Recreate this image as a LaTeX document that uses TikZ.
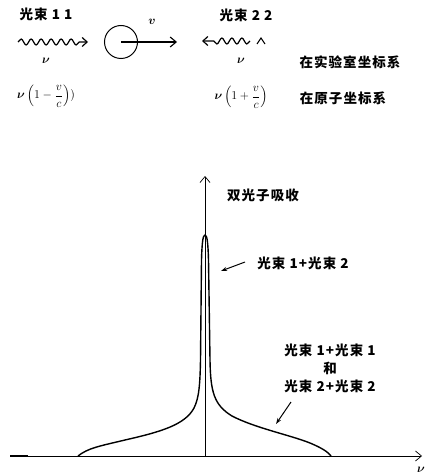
\documentclass[tikz,border=0pt]{standalone}
\usepackage{amsmath}
\usepackage{bm}
\usepackage{fontspec}
\newfontfamily\cjk[LetterSpace=8]{Noto Sans CJK SC}
\usetikzlibrary{decorations.pathmorphing,arrows.meta}
\begin{document}
\begin{tikzpicture}[x=1pt,y=-1pt,
  every node/.style={inner sep=0pt, font=\fontsize{13}{15}\selectfont},
  lbl/.style={font=\cjk\bfseries\fontsize{13.5}{18}\selectfont, align=center},
  wave/.style={line width=1.2pt, decorate, decoration={snake, amplitude=3pt, segment length=10pt, post length=8pt}, -{Straight Barb[length=5pt,width=9pt]}},
  plainarrow/.style={line width=1.1pt, -{Straight Barb[length=6pt,width=10pt]}},
  ax/.style={line width=0.7pt, -{Straight Barb[length=6pt,width=10pt]}},
  ptr/.style={line width=1pt, -{Stealth[length=6pt,width=4pt]}},
  peak/.style={line width=1.4pt}]
\useasboundingbox (0,0) rectangle (427,476);

% top part
\node[lbl] (b1) at (46,14) {光束 1 1};
\coordinate (w1s) at (18,42);
\coordinate (w1e) at (88,42);
\draw[wave] (w1s) -- (w1e);
\node (nu1) at (46,61) {$\bm{\nu}$};

\node[circle, draw, line width=1pt, minimum size=33pt] (atom) at (121,42) {};
\coordinate (va) at (177,42);
\draw[plainarrow] (atom.center) -- (va);
\node (v) at (152,22) {$\bm{v}$};

\node[lbl] (b2) at (246,15) {光束 2 2};
\coordinate (w2s) at (250,41);
\coordinate (w2e) at (202,41);
\draw[wave] (w2s) -- (w2e);
\coordinate (c1) at (257,44);
\coordinate (c2) at (261,38);
\coordinate (c3) at (265,44);
\draw[line width=1.1pt] (c1) -- (c2) -- (c3);
\node (nu2) at (241,61) {$\bm{\nu}$};
\node[lbl] (lab) at (350,62) {在实验室坐标系};

\node (f1) at (46,96) {$\bm{\nu}\left(1-\dfrac{v}{c}\right))$};
\node (f2) at (241,97) {$\bm{\nu}\left(1+\dfrac{v}{c}\right)$};
\node[lbl] (atomf) at (343,98) {在原子坐标系};

% graph
\coordinate (o) at (205,456);
\coordinate (xs) at (10,456);
\coordinate (xe) at (422,456);
\coordinate (ye) at (205,176);
\draw[line width=2pt] (xs) -- (28,456);
\draw[ax] (xs) -- (xe);
\draw[ax] (o) -- (ye);
\node (nux) at (421,470) {$\bm{\nu}$};
\node[lbl] (tpa) at (263,195) {双光子吸收};

\draw[peak] (78,456) .. controls (88,448) and (100,446) .. (125,440)
  .. controls (160,432) and (185,425) .. (194,408)
  .. controls (199,398) and (200,385) .. (200.5,360)
  -- (201.5,260) .. controls (202,242) and (203,235) .. (205,235)
  .. controls (207,235) and (208,242) .. (208.5,260)
  -- (210,360) .. controls (210.5,392) and (214,405) .. (232,416)
  .. controls (255,428) and (290,435) .. (310,443)
  .. controls (322,448) and (328,452) .. (331,456);

\node[lbl] (l12) at (303,263) {光束 1+光束 2};
\coordinate (p1s) at (245,262);
\coordinate (p1e) at (221,271);
\draw[ptr] (p1s) -- (p1e);

\node[lbl] (l11) at (330,368) {光束 1+光束 1\\和\\光束 2+光束 2};
\coordinate (p2s) at (291,402);
\coordinate (p2e) at (276,424);
\draw[ptr] (p2s) -- (p2e);
\end{tikzpicture}
\end{document}
